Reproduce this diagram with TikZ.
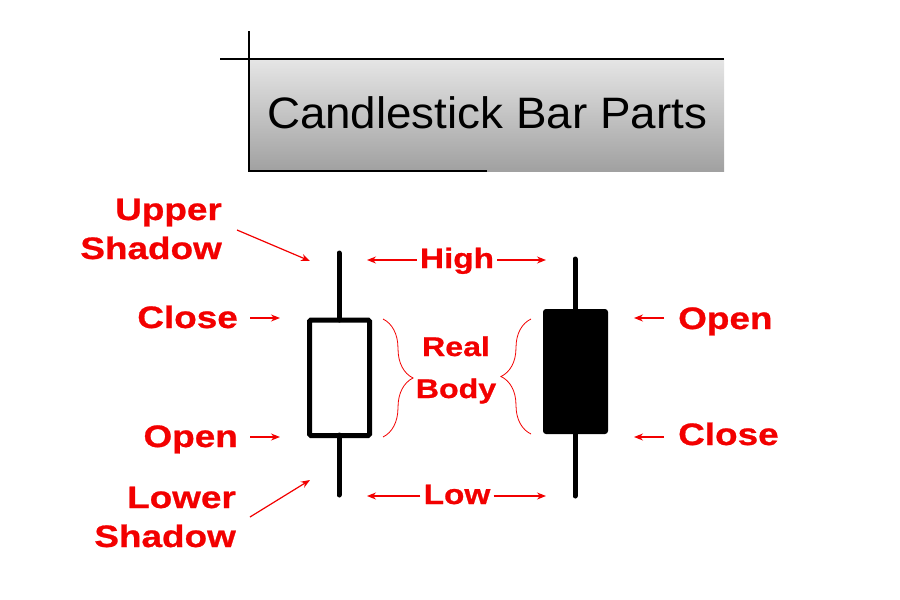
\documentclass[tikz,border=0pt]{standalone}
\usepackage{fontspec}
\setmainfont{Liberation Sans}
\newfontfamily\lblfont[FakeStretch=1.19,FakeBold=0.8]{Liberation Sans}
\newfontfamily\titlefont[FakeStretch=1.04]{Liberation Sans}
\usetikzlibrary{arrows.meta,decorations.pathreplacing}
\definecolor{lblred}{RGB}{242,0,0}
\begin{document}
\begin{tikzpicture}[x=1pt,y=-1pt,
  lbl/.style={text=lblred,font=\lblfont\bfseries\fontsize{31}{31}\selectfont,inner sep=0pt},
  midlbl/.style={text=lblred,font=\lblfont\bfseries\fontsize{28}{28}\selectfont,inner sep=0pt},
  bodylbl/.style={text=lblred,font=\lblfont\bfseries\fontsize{27}{27}\selectfont,inner sep=0pt},
  rarrow/.style={draw=lblred,line width=1.2pt,-{Stealth[length=9pt,width=7pt]}},
  wick/.style={line width=5pt,line cap=round},
  rbrace/.style={draw=lblred,line width=0.8pt,decorate,decoration={brace,amplitude=30pt}},
  frame/.style={line width=2pt,black}]
\useasboundingbox (0,0) rectangle (900,600);
% title box
\shade[top color=black!10,bottom color=black!37] (249,59) rectangle (724,171);
\draw[frame] (220,59) -- (724,59);
\draw[frame] (249,31) -- (249,171) -- (487,171);
\node[font=\titlefont\fontsize{44}{44}\selectfont,anchor=base,inner sep=0pt] (title) at (487,128) {Candlestick Bar Parts};
% left (white) candle
\draw[wick] (339,253) -- (339,320);
\draw[wick] (339,435) -- (339,495);
\draw[line width=5pt,rounded corners=1.5pt] (309.5,320) rectangle (369.5,435.5);
% right (black) candle
\draw[wick] (575,259) -- (575,310);
\draw[wick] (575,432) -- (575,496);
\fill[rounded corners=3pt] (543,309) rectangle (608,434);
% left labels
\node[lbl,anchor=base east] (up1) at (222,220) {Upper};
\node[lbl,anchor=base east] (up2) at (222,259) {Shadow};
\node[lbl,anchor=base east] (lclose) at (238,328) {Close};
\node[lbl,anchor=base east] (lopen) at (238,447) {Open};
\node[lbl,anchor=base east] (lo1) at (236,508) {Lower};
\node[lbl,anchor=base east] (lo2) at (236,547) {Shadow};
\coordinate (ust) at (237,230); \coordinate (uen) at (310,261);
\coordinate (lst) at (250,517); \coordinate (len) at (310,480);
\coordinate (cst) at (250,318); \coordinate (cen) at (280,318);
\coordinate (ost) at (250,437); \coordinate (oen) at (280,437);
\draw[rarrow] (ust) -- (uen);
\draw[rarrow] (lst) -- (len);
\draw[rarrow] (cst) -- (cen);
\draw[rarrow] (ost) -- (oen);
% right labels
\node[lbl,anchor=base west] (ropen) at (678,329) {Open};
\node[lbl,anchor=base west] (rclose) at (678,445) {Close};
\coordinate (rost) at (664,318); \coordinate (roen) at (634,318);
\coordinate (rcst) at (664,437); \coordinate (rcen) at (634,437);
\draw[rarrow] (rost) -- (roen);
\draw[rarrow] (rcst) -- (rcen);
% High / Low
\node[midlbl,anchor=base] (high) at (457,268) {High};
\node[midlbl,anchor=base] (low) at (457,504) {Low};
\coordinate (hl) at (367,260); \coordinate (hr) at (546,260);
\coordinate (ll) at (367,496); \coordinate (lr) at (546,496);
\draw[rarrow] (high.west |- hl) ++(-3,0) coordinate (hla) -- (hl);
\draw[rarrow] (high.east |- hr) ++(3,0) coordinate (hra) -- (hr);
\draw[rarrow] (low.west |- ll) ++(-3,0) coordinate (lla) -- (ll);
\draw[rarrow] (low.east |- lr) ++(3,0) coordinate (lra) -- (lr);
% Real Body
\node[bodylbl,anchor=base] (real) at (456,356) {Real};
\node[bodylbl,anchor=base] (body) at (456,398) {Body};
\coordinate (lb1) at (383,319); \coordinate (lb2) at (383,437);
\coordinate (rb1) at (531,434); \coordinate (rb2) at (531,319);
\draw[rbrace] (lb1) -- (lb2);
\draw[rbrace] (rb1) -- (rb2);
\end{tikzpicture}
\end{document}
